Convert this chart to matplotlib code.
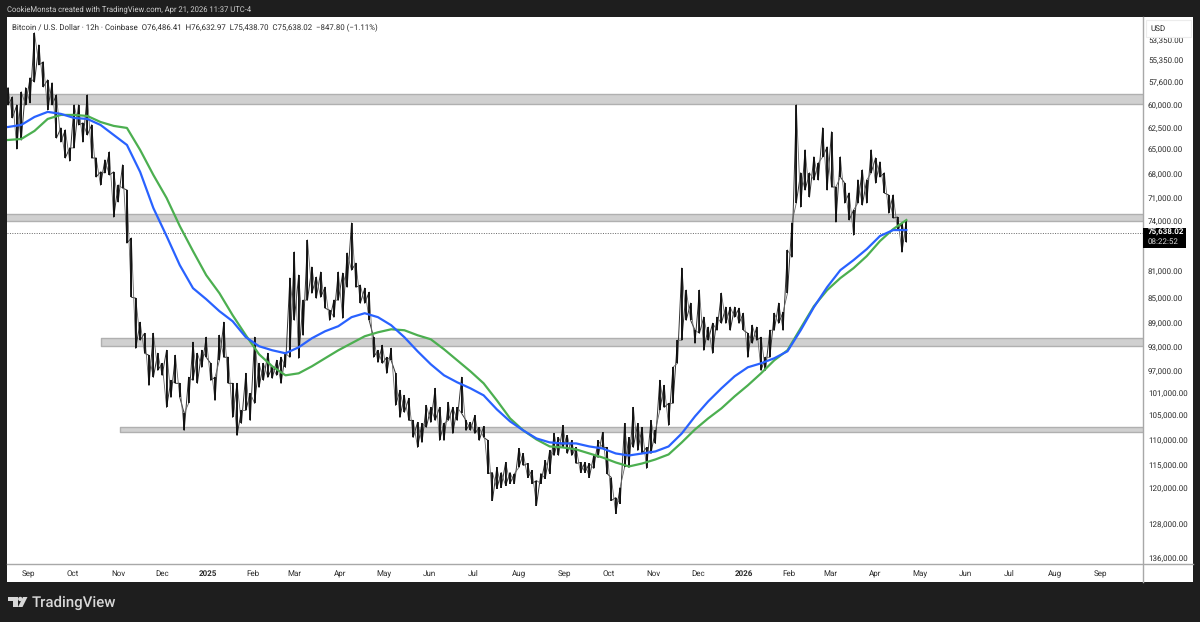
import pandas as pd
import matplotlib
matplotlib.use('Agg')
import matplotlib.pyplot as plt
from matplotlib.lines import Line2D
from matplotlib.patches import Rectangle, Polygon, Circle
from matplotlib.ticker import NullLocator

plt.rcParams['font.family'] = ['Roboto', 'DejaVu Sans']
plt.rcParams['text.hinting'] = 'none'

# candle ranges, one high/low pair per 3 days
candle_high = [
    58160, 59140, 60000, 58610, 58160, 57140, 52680, 53840, 55510, 57350,
    57660, 58925, 62550, 62775, 64850, 60000, 60000, 61990, 58925, 62210,
    66040, 67730, 66280, 65330, 67730, 69350, 66880, 69980, 76330, 85100,
    88880, 90670, 94350, 90670, 94010, 95730, 93500, 98720, 94350, 99260,
    104800, 98180, 92150, 94010, 93500, 91320, 95730, 98180, 90995, 88880,
    94690, 99260, 99260, 104235, 97480, 101070, 91320, 95730, 95730, 94010,
    96420, 95210, 94690, 94010, 82060, 78290, 81625, 85405, 76610, 80450,
    81920, 81180, 83420, 86965, 85405, 81180, 81330, 78430, 74290, 79870,
    83115, 83570, 84180, 91320, 93500, 92655, 94690, 93160, 97480, 100525,
    101440, 101990, 106140, 106520, 106720, 103295, 103670, 100160, 103670, 106720,
    102730, 103670, 103670, 98180, 106140, 106520, 105185, 107500, 107300, 110055,
    116630, 115570, 116630, 114530, 116630, 116840, 111660, 112680, 114740, 116205,
    118330, 116840, 114120, 112070, 108670, 109460, 107105, 109065, 110055, 111460,
    114530, 114530, 114740, 113090, 110055, 108470, 111460, 117690, 122030, 119840,
    106720, 109460, 103670, 106720, 107500, 111460, 106140, 108080, 98720, 99620,
    102920, 96420, 91820, 80600, 83870, 85870, 90175, 83870, 88070, 89680,
    89040, 88070, 84330, 86490, 86490, 86490, 86650, 87440, 90670, 89360,
    89680, 91320, 94690, 90175, 87440, 85870, 87280, 78010, 74290, 60000,
    67850, 65090, 67850, 65920, 66640, 62550, 64740, 63000, 69600, 65920,
    69100, 70360, 72560, 68720, 67490, 68720, 65090, 66040, 66520, 67850,
    70615, 70615, 73490, 74290, 73885,
]
candle_low = [
    60000, 61420, 64970, 63925, 60000, 59780, 57560, 55810, 58080, 60545,
    60000, 63700, 64160, 66040, 66400, 64850, 62210, 64160, 63350, 66040,
    68350, 69350, 67850, 68100, 73490, 71510, 69730, 77020, 84940, 93160,
    91820, 94010, 99620, 98180, 96950, 97830, 103670, 101810, 99260, 101810,
    108080, 102920, 98720, 99260, 96420, 94690, 98720, 102365, 95210, 94690,
    99260, 105560, 109065, 106720, 104235, 106140, 102920, 99980, 98720, 98180,
    98360, 97830, 99260, 96420, 94690, 88555, 94860, 90995, 85405, 84330,
    85100, 84940, 86650, 88555, 88070, 85405, 88230, 83420, 80890, 83420,
    85870, 85870, 88555, 94690, 95560, 95730, 97480, 95210, 103295, 105560,
    104610, 106140, 109460, 111460, 110450, 107500, 106520, 106140, 110055, 110055,
    106140, 108670, 106140, 104800, 108080, 108080, 108670, 110055, 109460, 116840,
    122695, 120050, 119840, 119405, 118970, 118970, 115570, 115155, 117690, 118970,
    123810, 118970, 117900, 116840, 113090, 113090, 111460, 112680, 113090, 114740,
    116630, 116630, 117690, 115780, 113500, 111460, 116840, 122695, 125620, 123360,
    115570, 115570, 111460, 112070, 112680, 115780, 112680, 110650, 104235, 103670,
    107105, 102920, 95730, 91820, 88555, 88555, 92320, 90670, 93500, 91820,
    94010, 90175, 89040, 89040, 90175, 88070, 89040, 90175, 94690, 92320,
    91820, 96950, 96950, 94690, 90175, 89040, 90175, 84330, 79010, 71640,
    72160, 69980, 70870, 68720, 68720, 65920, 69980, 69600, 74150, 68350,
    71640, 73885, 75920, 71640, 71905, 71640, 67850, 69100, 68350, 70360,
    72960, 73620, 75235, 78290, 76890,
]

# moving averages, one value per 9 days
ma_blue = [
    62440, 62210, 61320, 60760, 60980, 61430, 61540, 62210, 63350, 64505,
    67730, 72300, 76050, 80160, 83570, 85250, 87120, 88720, 91320, 92820,
    93500, 94010, 93000, 91490, 90340, 89520, 88070, 87440, 88070, 89360,
    91320, 93670, 95900, 97830, 99080, 100160, 101440, 104050, 106330, 108080,
    109660, 110450, 110650, 110650, 111260, 111660, 112680, 113090, 112680, 112270,
    111260, 108670, 105370, 102550, 100160, 98000, 96420, 95730, 94860, 93670,
    90175, 86490, 83420, 80890, 79435, 77870, 76050, 75235, 75235,
]
ma_green = [
    63925, 63810, 62890, 61540, 61095, 61095, 61210, 61880, 62320, 62550,
    65090, 68100, 70990, 74690, 78150, 81625, 84330, 87755, 90995, 94180,
    96250, 97830, 97480, 96250, 94860, 93500, 92320, 91160, 90510, 90020,
    90175, 90995, 91660, 93330, 95210, 97130, 99260, 102365, 105750, 108080,
    109860, 111260, 111460, 111860, 112680, 113500, 114530, 115360, 114740, 113910,
    112880, 110450, 107890, 105750, 103860, 101620, 99620, 97480, 95210, 93500,
    89840, 86340, 83870, 82060, 80600, 78860, 76750, 75100, 73885,
]

# horizontal zones: start date, top price, bottom price
zone_start = ['2024-08-01', '2024-08-01', '2024-10-20', '2024-11-02']
zone_top = [58850, 73090, 91490, 107430]
zone_bottom = [59860, 73950, 92740, 108410]

last_price = 75638.02

price_ticks = [53350, 55350, 57600, 60000, 62500, 65000, 68000, 71000, 74000, 81000, 85000,
               89000, 93000, 97000, 101000, 105000, 110000, 115000, 120000, 128000, 136000]
month_ticks = ['2024-09-01', '2024-10-01', '2024-11-01', '2024-12-01', '2025-01-01', '2025-02-01',
               '2025-03-01', '2025-04-01', '2025-05-01', '2025-06-01', '2025-07-01', '2025-08-01',
               '2025-09-01', '2025-10-01', '2025-11-01', '2025-12-01', '2026-01-01', '2026-02-01',
               '2026-03-01', '2026-04-01', '2026-05-01', '2026-06-01', '2026-07-01', '2026-08-01',
               '2026-09-01']
month_labels = ['Sep', 'Oct', 'Nov', 'Dec', '2025', 'Feb', 'Mar', 'Apr', 'May', 'Jun', 'Jul', 'Aug',
                'Sep', 'Oct', 'Nov', 'Dec', '2026', 'Feb', 'Mar', 'Apr', 'May', 'Jun', 'Jul', 'Aug',
                'Sep']

W, H = 1200, 622
DARK = '#1e1e1e'
EDGE = '#a8a8a8'
SMALL = 5.8


def fx(x):
    return x / W


def fy(y):
    return 1 - y / H


fig = plt.figure(figsize=(W / 100, H / 100), dpi=100, facecolor=DARK)
fig.patches.append(Rectangle((fx(6.7), fy(582)), (1193 - 6.7) / W, (582 - 17) / H,
                             transform=fig.transFigure, fc='white', ec='none', zorder=-5))

ax = fig.add_axes([fx(6.7), fy(564), (1142.7 - 6.7) / W, (564 - 17) / H])
ax.patch.set_alpha(0)

candle_dates = pd.date_range('2024-08-18', periods=len(candle_high), freq='3D')
ma_dates = pd.date_range('2024-08-18', periods=len(ma_blue), freq='9D')

# zones
for start, top, bottom in zip(zone_start, zone_top, zone_bottom):
    ax.fill_between([pd.Timestamp(start), pd.Timestamp('2026-12-31')], top, bottom,
                    fc='#d0d0d0', ec='#b0b0b0', lw=1, zorder=1)

ax.axhline(last_price, color='#666666', lw=0.7, ls=(0, (1, 1.5)), zorder=2)

# candles at this zoom are just wicks, so draw ranges and zigzags both ways through them
up_x, up_y, down_y = [], [], []
for d, h, l in zip(candle_dates, candle_high, candle_low):
    up_x += [d, d]
    up_y += [h, l]
    down_y += [l, h]
ax.plot(up_x, up_y, color='#333333', lw=0.7, zorder=3)
ax.plot(up_x, down_y, color='#666666', lw=0.6, zorder=3)
ax.vlines(candle_dates, candle_low, candle_high, color='black', lw=1.15, zorder=3)

ax.plot(ma_dates, ma_green, color='#4caf50', lw=1.6, zorder=4, solid_joinstyle='round')
ax.plot(ma_dates, ma_blue, color='#2962ff', lw=1.6, zorder=5, solid_joinstyle='round')

ax.set_yscale('log')
ax.set_ylim(137610, 51180)
ax.set_xlim(pd.Timestamp('2024-08-17 02:00'), pd.Timestamp('2026-09-30'))
ax.yaxis.tick_right()
ax.yaxis.set_minor_locator(NullLocator())
ax.set_yticks(price_ticks)
ax.set_yticklabels([f'{p:,.2f}' for p in price_ticks])
ax.set_xticks([pd.Timestamp(m) for m in month_ticks])
ax.set_xticklabels(month_labels)
ax.tick_params(axis='y', length=0, pad=3.8, labelsize=SMALL, labelcolor='#2a2a2a')
ax.tick_params(axis='x', length=0, pad=4.5, labelsize=SMALL, labelcolor='#2a2a2a')
for lab in ax.get_xticklabels():
    if lab.get_text() in ('2025', '2026'):
        lab.set_fontweight('bold')
for side in ax.spines:
    ax.spines[side].set_visible(False)

# pane borders
fig.add_artist(Line2D([fx(6.7), fx(1193)], [fy(564), fy(564)], color=EDGE, lw=1))
fig.add_artist(Line2D([fx(1142.7), fx(1142.7)], [fy(17), fy(582)], color=EDGE, lw=1))

# USD box sits over the top tick label
usd = Rectangle((fx(1145.5), fy(36.5)), 45 / W, 17 / H, transform=fig.transFigure,
                fc='white', ec='#ececec', lw=0.8, zorder=10)
fig.add_artist(usd)
fig.text(fx(1150.5), fy(29), 'USD', fontsize=SMALL, color='#2a2a2a', va='center', zorder=11)

# last price tag
tag = Rectangle((fx(1143.2), fy(247.5)), 43 / W, 20 / H, transform=fig.transFigure,
                fc='black', ec='none', zorder=10)
fig.add_artist(tag)
fig.text(fx(1148), fy(232.5), '75,638.02', fontsize=SMALL, color='white', va='center',
         fontweight='bold', zorder=11)
fig.text(fx(1148), fy(242), '08:22:52', fontsize=SMALL, color='#d8d8d8', va='center', zorder=11)

# header text
fig.text(fx(7), fy(9.5), 'CookieMonsta created with TradingView.com, Apr 21, 2026 11:37 UTC-4',
         fontsize=5.5, color='#cfcfcf', va='center')
fig.text(fx(12), fy(27.5),
         'Bitcoin / U.S. Dollar \u00b7 12h \u00b7 Coinbase  O76,486.41  H76,632.97  L75,438.70  '
         'C75,638.02  \u2212847.80 (\u22121.11%)',
         fontsize=5.7, color='#2a2a2a', va='center')

# logo bottom left
logo = '#d8d8d8'
for patch in [Rectangle((fx(7.5), fy(601)), 10 / W, 4 / H),
              Rectangle((fx(12.5), fy(607)), 5 / W, 10 / H),
              Polygon([(fx(23), fy(597)), (fx(27.5), fy(597)), (fx(22.5), fy(607)), (fx(18), fy(607))])]:
    patch.set(transform=fig.transFigure, fc=logo, ec='none')
    fig.add_artist(patch)
fig.add_artist(Circle((20.3, H - 599), 2.2, transform=None, fc=logo, ec='none'))
fig.text(fx(32), fy(602.5), 'TradingView', fontsize=10.8, color=logo, va='center', fontweight='medium')

fig.savefig('out.png', dpi=100, facecolor=DARK)
